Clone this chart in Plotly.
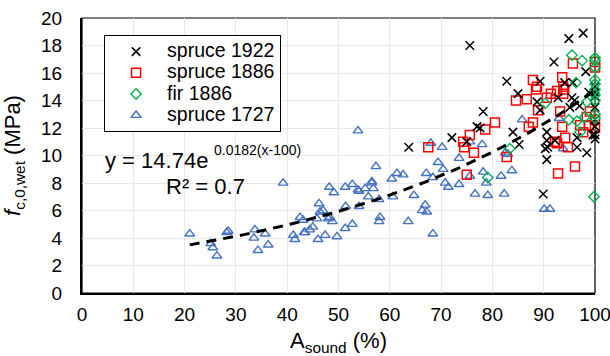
import numpy as np
import plotly.graph_objects as go

# ---- data ----
s1727_x = [21.0, 25.1, 25.5, 26.3, 28.2, 28.5, 33.7, 33.5, 34.3, 35.7, 36.3, 39.2, 41.2, 41.5, 42.5, 43.1, 43.3, 44.4,
           45.0, 46.0, 46.2, 46.4, 45.8, 47.4, 48.2, 48.3, 48.8, 48.0, 49.1, 49.7, 51.3, 51.4, 51.3, 52.7, 52.7, 53.8,
           54.0, 54.0, 55.2, 55.8, 56.5, 56.8, 56.5, 57.3, 57.9, 58.1, 57.9, 60.6, 60.4, 61.4, 62.6, 63.6, 64.7, 66.3,
           66.9, 67.2, 68.4, 67.1, 68.0, 68.4, 69.4, 70.4, 70.2, 70.8, 71.4, 73.5, 73.5, 75.6, 75.6, 76.6, 78.0, 78.2,
           78.8, 79.1, 81.7, 82.3, 83.8, 82.5, 83.0, 85.8, 90.1, 91.2, 93.0, 93.8, 47.0, 43.5, 53.8]
s1727_y = [4.3, 3.6, 3.3, 2.7, 4.4, 4.5, 4.6, 4.0, 3.1, 4.3, 3.5, 8.0, 4.2, 3.9, 5.5, 5.3, 4.4, 4.6,
           4.8, 3.9, 6.5, 5.9, 5.4, 4.2, 7.7, 5.5, 5.2, 5.4, 7.3, 4.1, 7.7, 6.3, 4.7, 7.9, 5.0, 11.8,
           6.3, 7.4, 7.6, 7.0, 8.0, 7.6, 8.1, 9.2, 6.8, 5.5, 5.2, 7.0, 8.3, 8.7, 8.6, 5.2, 7.1, 6.0,
           6.4, 5.9, 4.3, 8.7, 10.9, 8.4, 9.5, 9.0, 10.6, 8.0, 7.7, 7.9, 9.8, 11.0, 8.5, 7.2, 10.8, 8.8,
           8.0, 7.1, 8.5, 7.2, 8.9, 10.2, 10.1, 12.6, 6.1, 6.1, 12.7, 10.5, 6.0, 4.4, 7.5]

fir1886_x = [79.1, 83.4, 90.3, 94.9, 96.5, 97.1, 98.0, 95.5, 97.5, 96.3, 98.4, 100, 100, 100, 100, 100, 100, 100,
             100, 100, 100, 99.8]
fir1886_y = [8.4, 10.5, 13.8, 12.6, 12.5, 11.7, 12.8, 17.3, 16.9, 15.3, 13.9, 17.1, 16.9, 16.4, 15.5, 15.2, 14.8, 14.4,
             14.0, 13.0, 12.7, 7.0]

s1886_x = [67.5, 74.3, 74.5, 75.6, 76.4, 78.6, 80.5, 75.0, 82.8, 84.6, 86.7, 87.9, 88.7, 88.5, 88.9, 87.9, 87.1,
           90.6, 91.4, 92.6, 93.6, 93.8, 94.0, 93.8, 93.2, 93.6, 92.2, 92.6, 94.2, 94.7, 92.8, 96.1, 95.7, 97.1,
           97.7, 98.4, 99.0, 100, 100, 100, 100, 98.8]
s1886_y = [10.6, 11.0, 10.6, 11.5, 10.2, 11.9, 12.4, 8.6, 9.9, 14.0, 14.1, 15.5, 15.0, 14.8, 13.3, 12.4, 12.1,
           14.2, 14.5, 14.7, 15.7, 15.0, 14.8, 14.5, 13.2, 12.1, 11.0, 10.9, 11.3, 10.6, 8.7, 9.2, 16.7, 12.2,
           11.7, 12.8, 13.2, 16.8, 16.4, 12.0, 12.6, 12.2]

s1922_x = [63.7, 72.1, 75.0, 75.6, 77.0, 77.6, 78.2, 82.8, 84.0, 85.0, 85.2, 88.7, 89.3, 89.3, 89.9, 90.3, 90.6,
           90.8, 90.6, 90.6, 92.0, 92.2, 92.8, 94.1, 94.9, 95.1, 95.5, 95.7, 96.5, 96.5, 97.7, 98.2, 98.4, 98.8,
           99.6, 100, 100, 100, 100, 100, 100, 100, 100, 96.0, 97.0]
s1922_y = [10.6, 11.3, 11.0, 18.0, 12.1, 12.0, 13.2, 15.4, 11.7, 14.5, 10.8, 13.9, 15.4, 13.3, 7.2, 10.5, 11.1,
           10.6, 9.7, 11.7, 16.8, 11.1, 14.2, 15.3, 18.5, 13.5, 14.2, 15.3, 11.3, 10.6, 18.9, 16.1, 10.2, 14.6,
           11.5, 15.0, 14.6, 14.3, 13.5, 12.6, 12.1, 11.5, 11.2, 14.0, 13.6]

series_names = ["spruce 1922", "spruce 1886", "fir 1886", "spruce 1727"]

# trend line from displayed equation y = 14.74 e^{0.0182(x-100)}
fit_a = 14.74
fit_b = 0.0182
fit_xmin, fit_xmax = 21.0, 100.0

x_ticks = list(range(0, 101, 10))
y_ticks = list(range(0, 21, 2))

FONT = "Liberation Sans, Arial, sans-serif"


def lg(name):
    return '<span style="font-size:19.5px">' + name + '</span>'


fig = go.Figure()

fig.add_trace(go.Scatter(x=s1727_x, y=s1727_y, mode="markers", name=lg(series_names[3]), legendrank=4,
                         cliponaxis=False,
                         marker=dict(symbol="triangle-up-open", size=8.5, color="#4472c4", line=dict(width=1.4))))
fig.add_trace(go.Scatter(x=s1886_x, y=s1886_y, mode="markers", name=lg(series_names[1]), legendrank=2,
                         cliponaxis=False,
                         marker=dict(symbol="square-open", size=9, color="#ff0000", line=dict(width=1.5))))
fig.add_trace(go.Scatter(x=s1922_x, y=s1922_y, mode="markers", name=lg(series_names[0]), legendrank=1,
                         cliponaxis=False,
                         marker=dict(symbol="x-thin-open", size=8.5, color="#000000", line=dict(width=1.5, color="#000000"))))
fig.add_trace(go.Scatter(x=fir1886_x, y=fir1886_y, mode="markers", name=lg(series_names[2]), legendrank=3,
                         cliponaxis=False,
                         marker=dict(symbol="diamond-open", size=8, color="#00b050", line=dict(width=1.4))))

fx = np.linspace(fit_xmin, fit_xmax, 100)
fy = fit_a * np.exp(fit_b * (fx - 100))
fig.add_trace(go.Scatter(x=fx, y=fy, mode="lines", showlegend=False, cliponaxis=False,
                         line=dict(color="black", width=3, dash="10px,7px")))

fig.add_annotation(x=4.0, y=9.67, xref="x", yref="y", xanchor="left", yanchor="middle", showarrow=False,
                   text="y = 14.74e", font=dict(size=22, color="black", family=FONT))
fig.add_annotation(x=25.4, y=10.4, xref="x", yref="y", xanchor="left", yanchor="middle", showarrow=False,
                   text="0.0182(x-100)", font=dict(size=14, color="black", family=FONT))
fig.add_annotation(x=16.0, y=7.78, xref="x", yref="y", xanchor="left", yanchor="middle", showarrow=False,
                   text="R² = 0.7", font=dict(size=22, color="black", family=FONT))

# top/right thin border
fig.add_shape(type="rect", xref="paper", yref="paper", x0=0, y0=0, x1=1, y1=1,
              line=dict(color="black", width=1.2), layer="below")

fig.update_layout(
    width=610, height=356,
    margin=dict(l=82, r=15, t=18, b=63, autoexpand=False),
    paper_bgcolor="white", plot_bgcolor="white",
    font=dict(family=FONT, size=19, color="black"),
    legend=dict(x=0.043, y=0.938, xanchor="left", yanchor="top",
                bordercolor="black", borderwidth=1, bgcolor="white",
                font=dict(size=14, family=FONT), tracegroupgap=0, itemwidth=52),
    xaxis=dict(range=[0, 100], tickvals=x_ticks, showgrid=True, gridcolor="#e8e8e8", gridwidth=1,
               showline=True, linecolor="black", linewidth=2, zeroline=False, ticks="",
               ticklabeloverflow="allow", ticklabelstandoff=3, automargin=False,
               tickfont=dict(size=19), title=dict(text="A<sub>sound</sub> (%)", font=dict(size=22))),
    yaxis=dict(range=[0, 20], tickvals=y_ticks, showgrid=True, gridcolor="#e8e8e8", gridwidth=1,
               showline=True, linecolor="black", linewidth=2, zeroline=False, ticks="",
               ticklabelstandoff=14, automargin=False,
               tickfont=dict(size=19), title=dict(text="<i>f</i><sub>c,0,wet</sub> (MPa)", font=dict(size=22))),
)

fig.write_html("out.html")
